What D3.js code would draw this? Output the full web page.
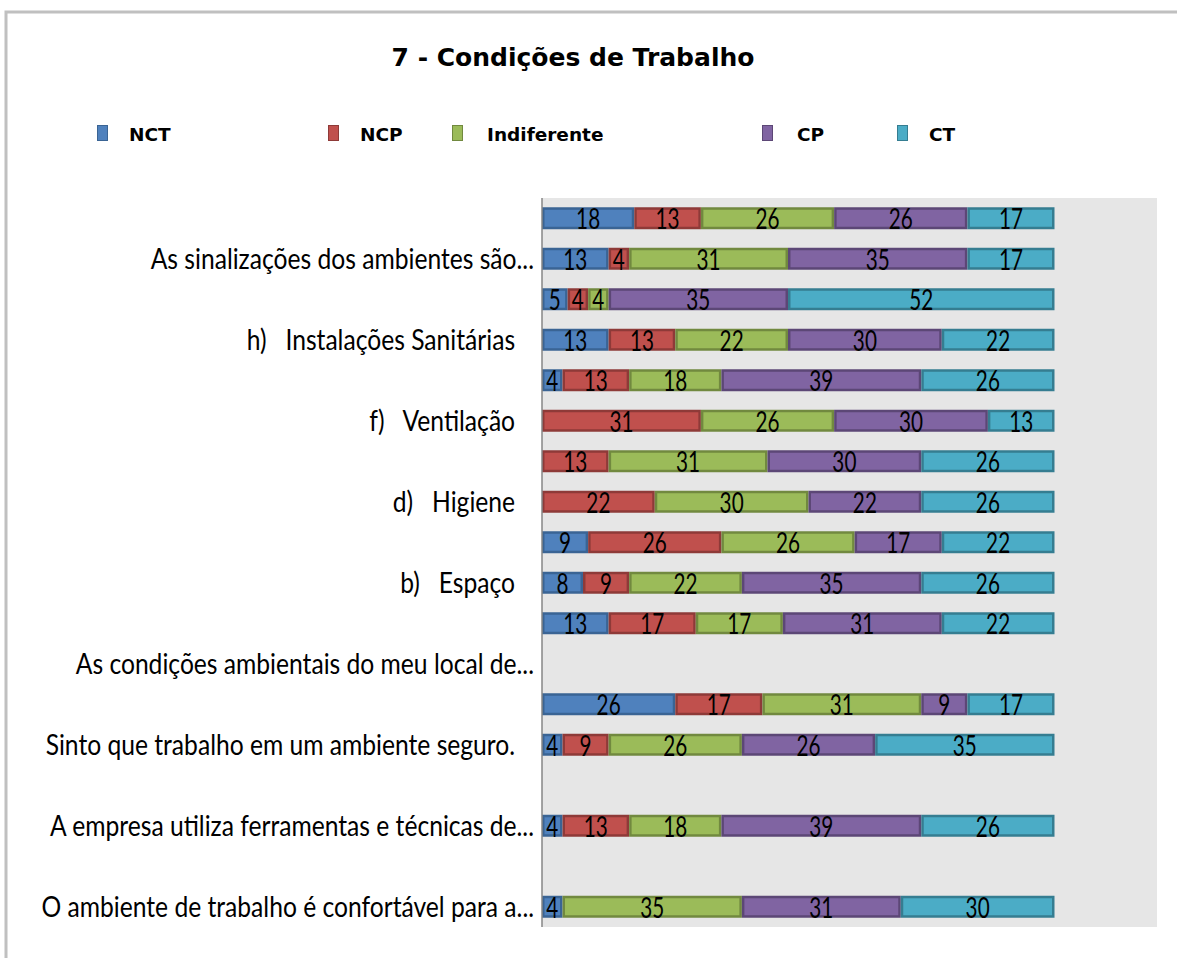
<!DOCTYPE html>
<html><head><meta charset="utf-8">
<script src="https://cdn.jsdelivr.net/npm/d3@7"></script>
<style>html,body{margin:0;padding:0;background:#fff;overflow:hidden}</style>
</head><body>
<svg id="chart" width="1177" height="958"></svg>
<script>
const title = "7 - Condições de Trabalho";
const seriesNames = ["NCT", "NCP", "Indiferente", "CP", "CT"];
const seriesColors = ["#4F81BD", "#C0504D", "#9BBB59", "#8064A2", "#4BACC6"];
const seriesStrokes = ["#3A6494", "#8E3A38", "#71893F", "#5C4776", "#357D91"];
const categoryLabels = [
  "", "As sinalizações dos ambientes são...", "", "h)\u00a0\u00a0 Instalações Sanitárias\u00a0\u00a0\u00a0", "",
  "f)\u00a0\u00a0 Ventilação\u00a0\u00a0\u00a0", "", "d)\u00a0\u00a0 Higiene\u00a0\u00a0\u00a0", "", "b)\u00a0\u00a0 Espaço\u00a0\u00a0\u00a0", "",
  "As condições ambientais do meu local de...", "", "Sinto que trabalho em um ambiente seguro.\u00a0\u00a0\u00a0", "",
  "A empresa utiliza ferramentas e técnicas de...", "", "O ambiente de trabalho é confortável para a..."
];
const NCT =        [18, 13,  5, 13,  4,  0,  0,  0,  9,  8, 13, null, 26,  4, null,  4, null,  4];
const NCP =        [13,  4,  4, 13, 13, 31, 13, 22, 26,  9, 17, null, 17,  9, null, 13, null,  0];
const Indiferente =[26, 31,  4, 22, 18, 26, 31, 30, 26, 22, 17, null, 31, 26, null, 18, null, 35];
const CP =         [26, 35, 35, 30, 39, 30, 30, 22, 17, 35, 31, null,  9, 26, null, 39, null, 31];
const CT =         [17, 17, 52, 22, 26, 13, 26, 26, 22, 26, 22, null, 17, 35, null, 26, null, 30];
const xMax = 120;

const seriesData = [NCT, NCP, Indiferente, CP, CT];
const svg = d3.select("#chart");

// frame
svg.append("rect").attr("x", 6).attr("y", 12).attr("width", 1300).attr("height", 1100)
  .attr("fill", "none").attr("stroke", "#c0c0c0").attr("stroke-width", 3);

// title
svg.append("text").attr("x", 573).attr("y", 66).attr("text-anchor", "middle")
  .attr("font-family", "DejaVu Sans").attr("font-weight", "bold").attr("font-size", 25)
  .text(title);

// legend
const legendX = [97, 328, 452, 762, 897];
const legendTextX = [129, 360, 487, 797, 929];
const lg = svg.append("g");
seriesNames.forEach((n, i) => {
  lg.append("rect").attr("x", legendX[i] + 0.5).attr("y", 125.5).attr("width", 10).attr("height", 15)
    .attr("fill", seriesColors[i]).attr("stroke", seriesStrokes[i]).attr("stroke-width", 1);
  lg.append("text").attr("x", legendTextX[i]).attr("y", 141)
    .attr("font-family", "DejaVu Sans").attr("font-weight", "bold").attr("font-size", 18.5)
    .text(n);
});

// plot
const plotL = 542, plotR = 1157, plotT = 198, plotB = 927;
const idx = d3.range(categoryLabels.length);
const x = d3.scaleLinear().domain([0, xMax]).range([plotL, plotR]);
const y = d3.scaleBand().domain(idx).range([plotT, plotB]).paddingInner(0.457).paddingOuter(0.2285);

svg.append("rect").attr("x", plotL).attr("y", plotT).attr("width", plotR - plotL).attr("height", plotB - plotT)
  .attr("fill", "#e6e6e6");

const stacked = idx.map(i => {
  let acc = 0;
  return seriesData.map((s, k) => {
    const v = s[i];
    const seg = { i, k, v, x0: acc, x1: acc + (v || 0) };
    acc += (v || 0);
    return seg;
  });
}).flat().filter(d => d.v);

const sw = 2.5;
svg.append("g").selectAll("rect").data(stacked).join("rect")
  .attr("x", d => x(d.x0) + sw / 2)
  .attr("y", d => y(d.i) + sw / 2)
  .attr("width", d => Math.max(0, x(d.x1) - x(d.x0) - sw))
  .attr("height", y.bandwidth() - sw)
  .attr("fill", d => seriesColors[d.k])
  .attr("stroke", d => seriesStrokes[d.k])
  .attr("stroke-width", sw);

const fontFam = "Lato, 'Open Sans', sans-serif";
const sx = 0.74;
svg.append("g").selectAll("text").data(stacked).join("text")
  .attr("transform", d => `translate(${(x(d.x0) + x(d.x1)) / 2},${y(d.i) + y.bandwidth() / 2 + 11}) scale(${sx},1)`)
  .attr("text-anchor", "middle").attr("font-family", fontFam).attr("font-size", 28)
  .attr("fill", "#000").text(d => d.v);

// axis line
svg.append("line").attr("x1", plotL).attr("x2", plotL).attr("y1", plotT).attr("y2", plotB)
  .attr("stroke", "#868686").attr("stroke-width", 1.5);

// category labels
const sxL = 0.88;
svg.append("g").selectAll("text").data(idx.filter(i => categoryLabels[i])).join("text")
  .attr("transform", i => `translate(${plotL - 8},${y(i) + y.bandwidth() / 2 + 10}) scale(${sxL},1)`)
  .attr("text-anchor", "end").attr("font-family", fontFam).attr("font-size", 28)
  .attr("fill", "#000").text(i => categoryLabels[i]);
</script>
</body></html>
